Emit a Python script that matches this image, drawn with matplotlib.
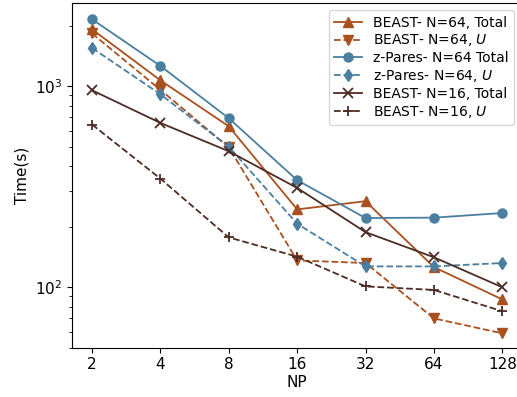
import numpy as np
import matplotlib.pyplot as plt
from matplotlib.ticker import ScalarFormatter, NullFormatter

np_procs = [2, 4, 8, 16, 32, 64, 128]

beast64_total = [1920, 1070, 632, 244, 268, 126, 87]
beast64_u = [1830, 960, 497, 136, 132, 70, 59]
zpares64_total = [2154, 1262, 693, 341, 221, 222, 234]
zpares64_u = [1551, 912, 500, 207, 127, 127, 132]
beast16_total = [955, 657, 475, 312, 188, 141, 100]
beast16_u = [645, 347, 177, 142, 101, 97, 76]

orange = '#a9501f'
blue = '#4a7fa0'
brown = '#4d2c24'

fig, ax = plt.subplots(figsize=(5.17, 3.97), dpi=100)

ax.plot(np_procs, beast64_total, '-', marker='^', color=orange, lw=1.3, ms=6.5,
        label='BEAST- N=64, Total')
ax.plot(np_procs, beast64_u, '--', marker='v', color=orange, lw=1.3, ms=6.5,
        label='BEAST- N=64, $U$')
ax.plot(np_procs, zpares64_total, '-', marker='o', color=blue, lw=1.3, ms=6.5,
        label='z-Pares- N=64 Total')
ax.plot(np_procs, zpares64_u, '--', marker='d', color=blue, lw=1.3, ms=6.5,
        label='z-Pares- N=64, $U$')
ax.plot(np_procs, beast16_total, '-', marker='x', color=brown, lw=1.3, ms=6.5,
        mew=1.3, label='BEAST- N=16, Total')
ax.plot(np_procs, beast16_u, '--', marker='+', color=brown, lw=1.3, ms=6.5,
        mew=1.3, label='BEAST- N=16, $U$')

ax.set_xscale('log', base=2)
ax.set_yscale('log')
ax.set_xticks(np_procs)
ax.xaxis.set_major_formatter(ScalarFormatter())
ax.xaxis.set_minor_formatter(NullFormatter())
ax.set_xlim(1.63, 155)
ax.set_ylim(50, 2590)

ax.tick_params(labelsize=11)
ax.set_xlabel('NP', fontsize=11, labelpad=2)
ax.set_ylabel('Time(s)', fontsize=11)

ax.legend(loc='upper right', fontsize=10, handlelength=2.0, labelspacing=0.2,
          borderpad=0.4, handletextpad=0.8)

fig.subplots_adjust(left=0.139, right=1.008, top=0.992, bottom=0.124)
plt.savefig('out.png', dpi=100)
